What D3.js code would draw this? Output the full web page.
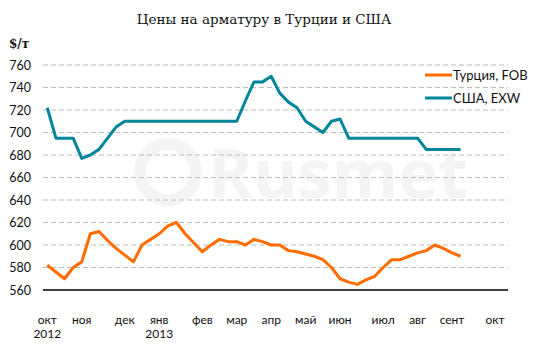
<!DOCTYPE html>
<html>
<head>
<meta charset="utf-8">
<script src="https://cdn.jsdelivr.net/npm/d3@7/dist/d3.min.js"></script>
<style>
  html, body { margin: 0; padding: 0; background: #fff; }
  svg { display: block; }
</style>
</head>
<body>
<svg id="chart" width="542" height="348"></svg>
<script>
// Weekly rebar prices, Oct 2012 – Sep 2013, $/t
const weekCount = 54;
const turkeyFOB = [582, 576, 570, 580, 585, 610, 612, 604, 597, 591, 585, 600, 605, 610, 617, 620, 610, 602, 594, 600, 605, 603, 603, 600, 605, 603, 600, 600, 595, 594, 592, 590, 587, 580, 570, 567, 565, 569, 572, 580, 587, 587, 590, 593, 595, 600, 597, 593, 590];
const usaEXW = [722, 695, 695, 695, 677, 680, 685, 695, 705, 710, 710, 710, 710, 710, 710, 710, 710, 710, 710, 710, 710, 710, 710, 728, 745, 745, 750, 735, 727, 722, 710, 705, 700, 710, 712, 695, 695, 695, 695, 695, 695, 695, 695, 695, 685, 685, 685, 685, 685];
const monthLabels = ["окт", "ноя", "дек", "янв", "фев", "мар", "апр", "май", "июн", "июл", "авг", "сент", "окт"];
const monthWeeks = [0, 4, 9, 13, 18, 22, 26, 30, 34, 39, 43, 47, 52];
const yearLabels = ["2012", "2013"];
const yearWeeks = [0, 13];
const yTicks = [560, 580, 600, 620, 640, 660, 680, 700, 720, 740, 760];
const seriesNames = ["Турция, FOB", "США, EXW"];
const seriesColors = ["#ff6c00", "#00869a"];

const svg = d3.select("#chart");
const plotLeft = 43, plotRight = 508, plotTop = 65, plotBottom = 290;

const x = d3.scalePoint().domain(d3.range(weekCount)).range([plotLeft, plotRight]).padding(0.5);
const y = d3.scaleLinear().domain([560, 760]).range([plotBottom, plotTop]);

// faint brand watermark
svg.append("circle").attr("cx", 168).attr("cy", 172).attr("r", 28)
  .attr("fill", "none").attr("stroke", "#f4f4f4").attr("stroke-width", 12);
svg.append("text").attr("x", 208).attr("y", 198)
  .attr("font-family", "Open Sans, sans-serif").attr("font-size", 68).attr("font-weight", 700)
  .attr("fill", "#f4f4f4").text("Rusmet");

// title
svg.append("text").attr("x", 264).attr("y", 24).attr("text-anchor", "middle")
  .attr("font-family", "DejaVu Serif, serif").attr("font-size", 13.5)
  .attr("fill", "#111").text("Цены на арматуру в Турции и США");

svg.append("text").attr("x", 9).attr("y", 48)
  .attr("font-family", "DejaVu Serif, serif").attr("font-size", 12).attr("font-weight", 700)
  .attr("fill", "#111").text("$/т");

// horizontal dashed gridlines
svg.append("g").selectAll("line").data(yTicks.filter(v => v > 560)).join("line")
  .attr("x1", plotLeft).attr("x2", plotRight)
  .attr("y1", d => y(d)).attr("y2", d => y(d))
  .attr("stroke", "#bdbdbd").attr("stroke-width", 1).attr("stroke-dasharray", "5,3");

// y axis labels
const yAxis = svg.append("g").attr("transform", `translate(${plotLeft - 12},0)`)
  .call(d3.axisLeft(y).tickValues(yTicks).tickSize(0).tickPadding(0).tickFormat(d3.format("d")));
yAxis.select(".domain").remove();
yAxis.selectAll("text").attr("font-family", "Lato, sans-serif").attr("font-size", 12.5).attr("fill", "#111");

// x axis baseline
svg.append("line").attr("x1", plotLeft).attr("x2", plotRight).attr("y1", plotBottom).attr("y2", plotBottom)
  .attr("stroke", "#000").attr("stroke-width", 1.5);

// month & year labels
svg.append("g").selectAll("text").data(monthLabels).join("text")
  .attr("x", (d, i) => x(monthWeeks[i])).attr("y", 324).attr("text-anchor", "middle")
  .attr("font-family", "Lato, sans-serif").attr("font-size", 12).attr("fill", "#111").text(d => d);
svg.append("g").selectAll("text").data(yearLabels).join("text")
  .attr("x", (d, i) => x(yearWeeks[i])).attr("y", 338).attr("text-anchor", "middle")
  .attr("font-family", "Lato, sans-serif").attr("font-size", 12).attr("fill", "#111").text(d => d);

// series lines
const line = d3.line().x((d, i) => x(i)).y(d => y(d));
[turkeyFOB, usaEXW].forEach((s, k) => {
  svg.append("path").datum(s).attr("d", line).attr("fill", "none")
    .attr("stroke", seriesColors[k]).attr("stroke-width", 3).attr("stroke-linejoin", "round");
});

// legend
const lg = svg.append("g").selectAll("g").data(seriesNames).join("g")
  .attr("transform", (d, i) => `translate(425,${75 + i * 23})`);
lg.append("line").attr("x1", 0).attr("x2", 27).attr("stroke", (d, i) => seriesColors[i]).attr("stroke-width", 3);
lg.append("text").attr("x", 28).attr("y", 4.5)
  .attr("font-family", "Lato, sans-serif").attr("font-size", 13).attr("fill", "#111").text(d => d);
</script>
</body>
</html>
